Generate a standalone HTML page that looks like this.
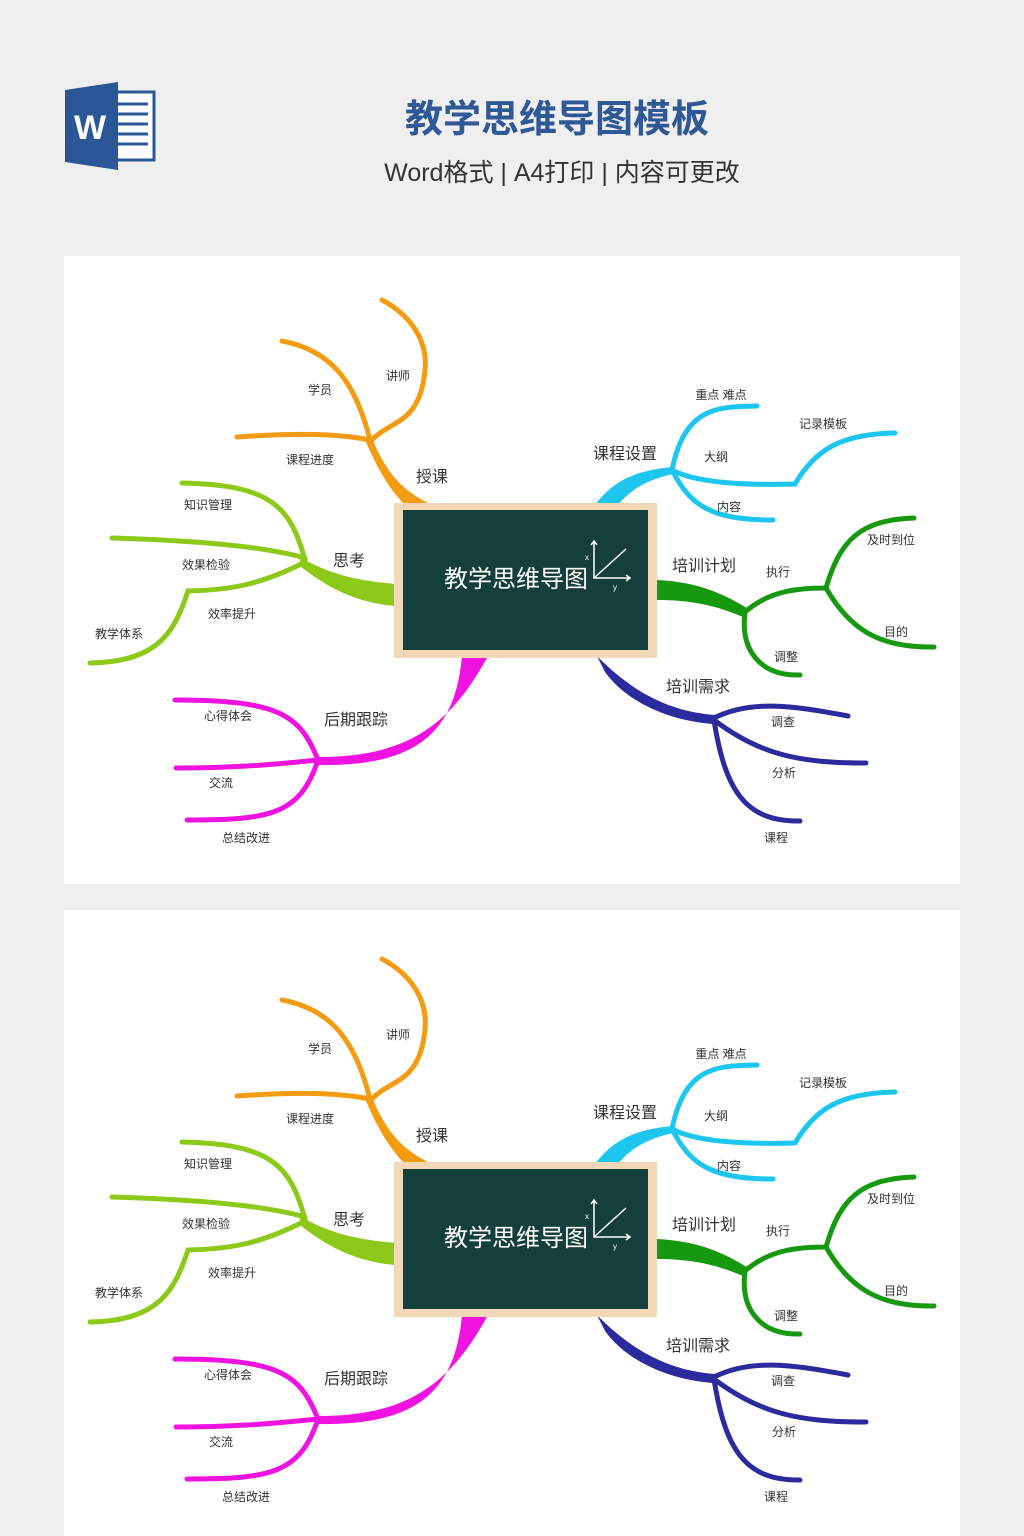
<!DOCTYPE html>
<html><head><meta charset="utf-8"><style>
html,body{margin:0;padding:0;background:#efefef;}
body{width:1024px;height:1536px;position:relative;overflow:hidden;font-family:"Liberation Sans","Noto Sans CJK SC",sans-serif;}
</style></head><body>
<svg width="1024" height="1536" viewBox="0 0 1024 1536" xmlns="http://www.w3.org/2000/svg" style="position:absolute;left:0;top:0" font-family="'Liberation Sans','Noto Sans CJK SC',sans-serif">
<!-- word icon -->
<rect x="100" y="92" width="54" height="68" fill="#fff" stroke="#2b5797" stroke-width="3"/>
<g stroke="#2b5797" stroke-width="3"><line x1="118" y1="104" x2="148" y2="104"/><line x1="118" y1="114" x2="148" y2="114"/><line x1="118" y1="124" x2="148" y2="124"/><line x1="118" y1="134" x2="148" y2="134"/><line x1="118" y1="144" x2="148" y2="144"/></g>
<polygon points="65,90 118,82 118,170 65,162" fill="#2b5797"/>
<text x="90" y="139" font-size="34" font-weight="bold" fill="#fff" text-anchor="middle">W</text>
<text x="557" y="132" font-size="38" font-weight="bold" fill="#2f5897" text-anchor="middle">教学思维导图模板</text>
<text x="562" y="181" font-size="25" fill="#333" text-anchor="middle">Word格式 | A4打印 | 内容可更改</text>
<rect x="64" y="256" width="896" height="628" fill="#fff"/>
<rect x="64" y="910" width="896" height="626" fill="#fff"/>
<g id="m">
<g fill="none" stroke-linecap="round" stroke-width="5">
<g stroke="#f39c12">
<path d="M370,440 C355,380 330,350 282,341"/>
<path d="M372,440 C390,420 420,425 425,370 C428,340 410,315 382,300"/>
<path d="M370,440 C330,432 280,434 237,437"/>
</g>
<g stroke="#8cc919">
<path d="M305,560 C290,505 270,485 182,483"/>
<path d="M305,558 C260,545 180,540 112,538"/>
<path d="M305,562 C260,585 230,590 188,591 C175,630 160,662 90,663"/>
</g>
<g stroke="#ef12e0">
<path d="M318,760 C300,715 280,700 175,700"/>
<path d="M318,760 C270,765 230,768 176,768"/>
<path d="M318,760 C300,815 270,820 187,820"/>
</g>
<g stroke="#1cc6ef">
<path d="M672,470 C685,405 720,407 757,406"/>
<path d="M672,470 C700,485 760,485 795,484 C815,450 840,434 895,433"/>
<path d="M672,470 C690,505 710,520 773,520"/>
</g>
<g stroke="#16990f">
<path d="M745,612 C770,590 800,588 826,588 C840,540 860,520 914,518"/>
<path d="M826,588 C850,630 880,648 934,647"/>
<path d="M745,612 C740,650 760,676 800,675"/>
</g>
<g stroke="#2b2b9e">
<path d="M714,718 C750,700 790,705 848,716"/>
<path d="M714,720 C760,755 800,763 866,763"/>
<path d="M714,720 C725,790 745,822 800,821"/>
</g>
</g>
<path d="M372,438 C385,470 400,490 432,505 L405,505 C390,490 378,470 366,442Z" fill="#f39c12"/>
<path d="M300,557 C330,575 360,581 396,584 L396,606 C355,603 325,586 300,566Z" fill="#8cc919"/>
<path d="M488,656 C452,722 410,758 316,757 L316,765 C418,767 455,732 462,656Z" fill="#ef12e0"/>
<path d="M595,505 C615,478 640,470 673,467 L673,474 C645,480 628,492 618,505Z" fill="#1cc6ef"/>
<path d="M657,580 C700,582 725,595 747,608 L743,617 C715,605 690,600 657,600Z" fill="#16990f"/>
<path d="M597,656 C632,692 670,712 716,715 L712,724 C665,720 625,700 605,672Z" fill="#2b2b9e"/>
<rect x="394" y="503" width="263" height="155" fill="#f3d8b8"/>
<rect x="403" y="510" width="245" height="140" fill="#153f3a"/>
<text x="516" y="587" font-size="24" fill="#fff" text-anchor="middle">教学思维导图</text>
<g stroke="#fff" stroke-width="1.5" fill="none"><path d="M594,541 V578 H630"/><path d="M591,545 L594,541 L597,545"/><path d="M626,575 L630,578 L626,581"/><path d="M594,578 L626,549"/></g>
<text x="585" y="560" font-size="8" fill="#fff">x</text><text x="613" y="590" font-size="8" fill="#fff">y</text>
<g font-size="16" fill="#333" text-anchor="middle">
<text x="432" y="482">授课</text><text x="349" y="566">思考</text><text x="356" y="725">后期跟踪</text>
<text x="625" y="459">课程设置</text><text x="704" y="571">培训计划</text><text x="698" y="692">培训需求</text>
</g>
<g font-size="12" fill="#333" text-anchor="middle">
<text x="320" y="394">学员</text><text x="398" y="380">讲师</text><text x="310" y="464">课程进度</text>
<text x="208" y="509">知识管理</text><text x="206" y="569">效果检验</text><text x="232" y="618">效率提升</text><text x="119" y="638">教学体系</text>
<text x="228" y="720">心得体会</text><text x="221" y="787">交流</text><text x="246" y="842">总结改进</text>
<text x="721" y="399">重点 难点</text><text x="823" y="428">记录模板</text><text x="716" y="461">大纲</text><text x="729" y="511">内容</text>
<text x="778" y="576">执行</text><text x="891" y="544">及时到位</text><text x="896" y="636">目的</text><text x="786" y="661">调整</text>
<text x="783" y="726">调查</text><text x="784" y="777">分析</text><text x="776" y="842">课程</text>
</g>
</g>
<g transform="translate(0,659)">
<g fill="none" stroke-linecap="round" stroke-width="5">
<g stroke="#f39c12">
<path d="M370,440 C355,380 330,350 282,341"/>
<path d="M372,440 C390,420 420,425 425,370 C428,340 410,315 382,300"/>
<path d="M370,440 C330,432 280,434 237,437"/>
</g>
<g stroke="#8cc919">
<path d="M305,560 C290,505 270,485 182,483"/>
<path d="M305,558 C260,545 180,540 112,538"/>
<path d="M305,562 C260,585 230,590 188,591 C175,630 160,662 90,663"/>
</g>
<g stroke="#ef12e0">
<path d="M318,760 C300,715 280,700 175,700"/>
<path d="M318,760 C270,765 230,768 176,768"/>
<path d="M318,760 C300,815 270,820 187,820"/>
</g>
<g stroke="#1cc6ef">
<path d="M672,470 C685,405 720,407 757,406"/>
<path d="M672,470 C700,485 760,485 795,484 C815,450 840,434 895,433"/>
<path d="M672,470 C690,505 710,520 773,520"/>
</g>
<g stroke="#16990f">
<path d="M745,612 C770,590 800,588 826,588 C840,540 860,520 914,518"/>
<path d="M826,588 C850,630 880,648 934,647"/>
<path d="M745,612 C740,650 760,676 800,675"/>
</g>
<g stroke="#2b2b9e">
<path d="M714,718 C750,700 790,705 848,716"/>
<path d="M714,720 C760,755 800,763 866,763"/>
<path d="M714,720 C725,790 745,822 800,821"/>
</g>
</g>
<path d="M372,438 C385,470 400,490 432,505 L405,505 C390,490 378,470 366,442Z" fill="#f39c12"/>
<path d="M300,557 C330,575 360,581 396,584 L396,606 C355,603 325,586 300,566Z" fill="#8cc919"/>
<path d="M488,656 C452,722 410,758 316,757 L316,765 C418,767 455,732 462,656Z" fill="#ef12e0"/>
<path d="M595,505 C615,478 640,470 673,467 L673,474 C645,480 628,492 618,505Z" fill="#1cc6ef"/>
<path d="M657,580 C700,582 725,595 747,608 L743,617 C715,605 690,600 657,600Z" fill="#16990f"/>
<path d="M597,656 C632,692 670,712 716,715 L712,724 C665,720 625,700 605,672Z" fill="#2b2b9e"/>
<rect x="394" y="503" width="263" height="155" fill="#f3d8b8"/>
<rect x="403" y="510" width="245" height="140" fill="#153f3a"/>
<text x="516" y="587" font-size="24" fill="#fff" text-anchor="middle">教学思维导图</text>
<g stroke="#fff" stroke-width="1.5" fill="none"><path d="M594,541 V578 H630"/><path d="M591,545 L594,541 L597,545"/><path d="M626,575 L630,578 L626,581"/><path d="M594,578 L626,549"/></g>
<text x="585" y="560" font-size="8" fill="#fff">x</text><text x="613" y="590" font-size="8" fill="#fff">y</text>
<g font-size="16" fill="#333" text-anchor="middle">
<text x="432" y="482">授课</text><text x="349" y="566">思考</text><text x="356" y="725">后期跟踪</text>
<text x="625" y="459">课程设置</text><text x="704" y="571">培训计划</text><text x="698" y="692">培训需求</text>
</g>
<g font-size="12" fill="#333" text-anchor="middle">
<text x="320" y="394">学员</text><text x="398" y="380">讲师</text><text x="310" y="464">课程进度</text>
<text x="208" y="509">知识管理</text><text x="206" y="569">效果检验</text><text x="232" y="618">效率提升</text><text x="119" y="638">教学体系</text>
<text x="228" y="720">心得体会</text><text x="221" y="787">交流</text><text x="246" y="842">总结改进</text>
<text x="721" y="399">重点 难点</text><text x="823" y="428">记录模板</text><text x="716" y="461">大纲</text><text x="729" y="511">内容</text>
<text x="778" y="576">执行</text><text x="891" y="544">及时到位</text><text x="896" y="636">目的</text><text x="786" y="661">调整</text>
<text x="783" y="726">调查</text><text x="784" y="777">分析</text><text x="776" y="842">课程</text>
</g>
</g>
</svg>
</body></html>
